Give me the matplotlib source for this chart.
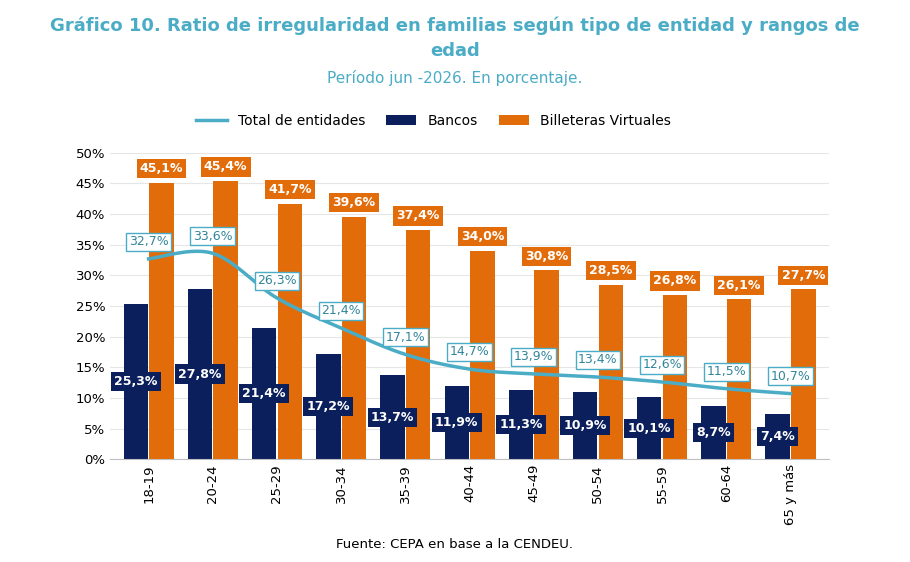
import matplotlib.pyplot as plt
import numpy as np

edades = ['18-19', '20-24', '25-29', '30-34', '35-39', '40-44', '45-49', '50-54', '55-59', '60-64', '65 y más']
bancos = [25.3, 27.8, 21.4, 17.2, 13.7, 11.9, 11.3, 10.9, 10.1, 8.7, 7.4]
billeteras = [45.1, 45.4, 41.7, 39.6, 37.4, 34.0, 30.8, 28.5, 26.8, 26.1, 27.7]
total = [32.7, 33.6, 26.3, 21.4, 17.1, 14.7, 13.9, 13.4, 12.6, 11.5, 10.7]

NAVY = '#0b1f5c'
ORANGE = '#e36c0a'
TEAL = '#4bacc6'
TITLE = '#4bacc6'


def fmt(v):
    return f'{v:.1f}%'.replace('.', ',')


def smooth(x, y, n=20):
    # Catmull-Rom para suavizar la línea
    xs, ys = [], []
    p = list(zip(x, y))
    p = [p[0]] + p + [p[-1]]
    for i in range(1, len(p) - 2):
        p0, p1, p2, p3 = [np.array(q) for q in p[i - 1:i + 3]]
        for t in np.linspace(0, 1, n, endpoint=False):
            pt = 0.5 * (2 * p1 + (-p0 + p2) * t + (2 * p0 - 5 * p1 + 4 * p2 - p3) * t ** 2
                        + (-p0 + 3 * p1 - 3 * p2 + p3) * t ** 3)
            xs.append(pt[0]); ys.append(pt[1])
    xs.append(x[-1]); ys.append(y[-1])
    return xs, ys


fig = plt.figure(figsize=(9.1, 5.62), dpi=100)
ax = fig.add_axes([0.121, 0.183, 0.79, 0.545])

x = np.arange(len(edades))
w = 0.38
ax.bar(x - 0.2, bancos, w, color=NAVY, label='Bancos', zorder=2)
ax.bar(x + 0.2, billeteras, w, color=ORANGE, label='Billeteras Virtuales', zorder=2)
sx, sy = smooth(list(x), total)
ax.plot(sx, sy, color=TEAL, lw=2.5, label='Total de entidades', zorder=3)

for i in x:
    ax.text(i - 0.2, bancos[i] / 2, fmt(bancos[i]), ha='center', va='center', color='white',
            fontsize=9, fontweight='bold', zorder=5,
            bbox=dict(boxstyle='square,pad=0.25', fc=NAVY, ec='none'))
    ax.text(i + 0.2, billeteras[i] + 2.3, fmt(billeteras[i]), ha='center', va='center', color='white',
            fontsize=9, fontweight='bold', zorder=5,
            bbox=dict(boxstyle='square,pad=0.25', fc=ORANGE, ec='none'))
    ax.text(i, total[i] + 2.8, fmt(total[i]), ha='center', va='center', color='#31859c',
            fontsize=9, zorder=6,
            bbox=dict(boxstyle='square,pad=0.2', fc='white', ec=TEAL, lw=1))

ax.set_ylim(0, 50)
ax.set_xlim(-0.6, len(edades) - 0.4)
ax.set_yticks(range(0, 51, 5))
ax.set_yticklabels([f'{v}%' for v in range(0, 51, 5)], fontsize=9.5)
ax.set_xticks(x)
ax.set_xticklabels(edades, rotation=90, fontsize=9.5)
ax.tick_params(length=0)
ax.grid(axis='y', color='#e6e6e6', lw=0.8, zorder=0)
for s in ['top', 'right', 'left']:
    ax.spines[s].set_visible(False)
ax.spines['bottom'].set_color('#bfbfbf')

ax.legend(loc='lower center', bbox_to_anchor=(0.45, 1.04), ncol=3, frameon=False, fontsize=10,
          handlelength=2.2, columnspacing=1.5)

fig.text(0.5, 0.955, 'Gráfico 10. Ratio de irregularidad en familias según tipo de entidad y rangos de',
         ha='center', va='center', color=TITLE, fontsize=13, fontweight='bold')
fig.text(0.5, 0.91, 'edad', ha='center', va='center', color=TITLE, fontsize=13, fontweight='bold')
fig.text(0.5, 0.862, 'Período jun -2026. En porcentaje.', ha='center', va='center', color=TITLE, fontsize=11)
fig.text(0.5, 0.032, 'Fuente: CEPA en base a la CENDEU.', ha='center', va='center', fontsize=9.5)

fig.savefig('out.png', dpi=100)
